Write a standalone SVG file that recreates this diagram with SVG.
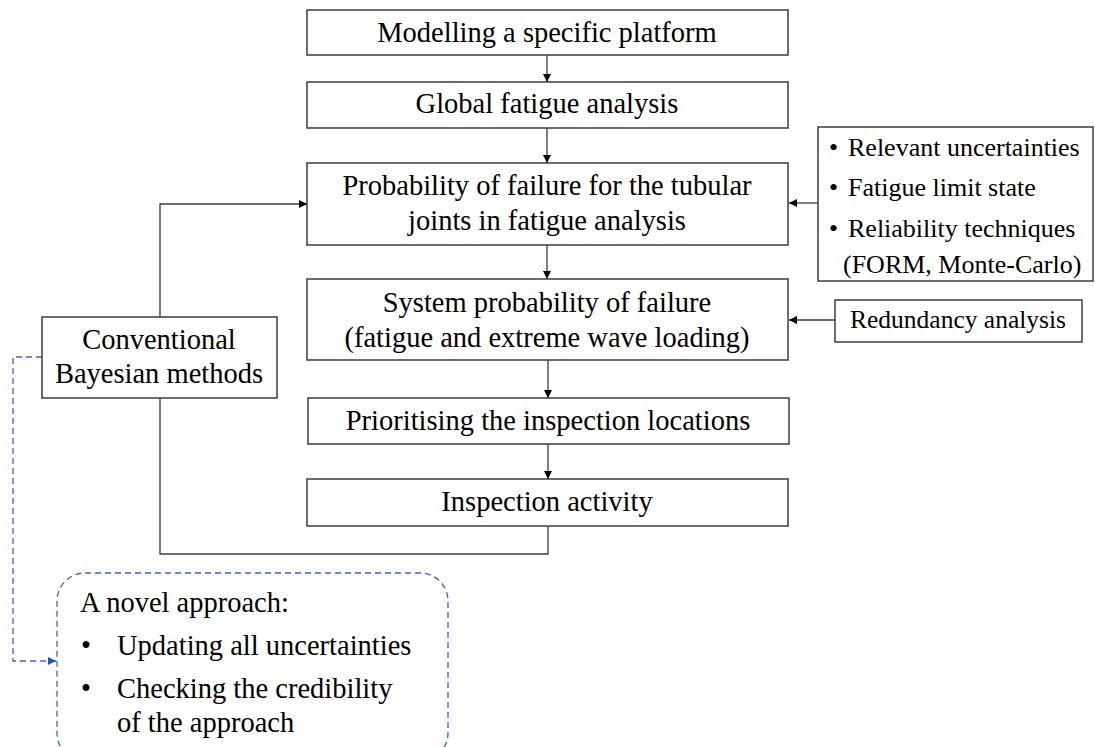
<svg xmlns="http://www.w3.org/2000/svg" width="1095" height="747" viewBox="0 0 1095 747">
  <defs>
    <marker id="arr" viewBox="0 0 10 10" refX="10" refY="5" markerWidth="9" markerHeight="8" markerUnits="userSpaceOnUse" orient="auto">
      <path d="M0,0 L10,5 L0,10 z" fill="#000"/>
    </marker>
    <marker id="arrBlue" viewBox="0 0 10 10" refX="10" refY="5" markerWidth="9" markerHeight="8" markerUnits="userSpaceOnUse" orient="auto">
      <path d="M0,0 L10,5 L0,10 z" fill="#2a55b8"/>
    </marker>
    <style>
      .box { fill: #fff; stroke: #3c3c3c; stroke-width: 1.5; }
      .t { font-family: "Liberation Serif", serif; font-size: 28.5px; fill: #000; }
      .s { font-size: 26px; }
      .r { font-size: 25.5px; }
      .c { text-anchor: middle; }
      .link { fill: none; stroke: #3c3c3c; stroke-width: 1.3; }
      .dash { fill: none; stroke: #3a66c4; stroke-width: 1.3; stroke-dasharray: 6 4; }
    </style>
  </defs>
  <rect width="1095" height="747" fill="#fff"/>

  <!-- connectors -->
  <g id="connectors">
    <line class="link" x1="547" y1="55" x2="547" y2="82" marker-end="url(#arr)"/>
    <line class="link" x1="547" y1="128" x2="547" y2="163" marker-end="url(#arr)"/>
    <line class="link" x1="547" y1="245" x2="547" y2="279" marker-end="url(#arr)"/>
    <line class="link" x1="548" y1="360" x2="548" y2="398" marker-end="url(#arr)"/>
    <line class="link" x1="548" y1="444" x2="548" y2="479" marker-end="url(#arr)"/>
    <polyline class="link" points="548,526 548,554 160,554 160,398"/>
    <polyline class="link" points="160,317 160,204 307,204" marker-end="url(#arr)"/>
    <line class="link" x1="818" y1="203" x2="789" y2="203" marker-end="url(#arr)"/>
    <line class="link" x1="835" y1="320" x2="789" y2="320" marker-end="url(#arr)"/>
    <polyline class="dash" points="42,357 13,357 13,661 56,661" marker-end="url(#arrBlue)"/>
  </g>

  <g id="modelling">
    <rect class="box" x="307" y="10" width="481" height="45"/>
    <text class="t c" x="547" y="42">Modelling a specific platform</text>
  </g>

  <g id="global-fatigue">
    <rect class="box" x="307" y="82" width="481" height="46"/>
    <text class="t c" x="547" y="113">Global fatigue analysis</text>
  </g>

  <g id="joint-failure">
    <rect class="box" x="307" y="163" width="481" height="82"/>
    <text class="t c" x="547" y="195">Probability of failure for the tubular</text>
    <text class="t c" x="547" y="230">joints in fatigue analysis</text>
  </g>

  <g id="system-failure">
    <rect class="box" x="307" y="279" width="481" height="81"/>
    <text class="t c" x="547" y="312">System probability of failure</text>
    <text class="t c" x="547" y="347">(fatigue and extreme wave loading)</text>
  </g>

  <g id="prioritising">
    <rect class="box" x="308" y="398" width="481" height="46"/>
    <text class="t c" x="548" y="430">Prioritising the inspection locations</text>
  </g>

  <g id="inspection">
    <rect class="box" x="307" y="479" width="481" height="47"/>
    <text class="t c" x="547" y="511">Inspection activity</text>
  </g>

  <g id="reliability-inputs">
    <rect class="box" x="818" y="127" width="275" height="154"/>
    <text class="t s" x="829" y="156">•</text>
    <text class="t s" x="848" y="156">Relevant uncertainties</text>
    <text class="t s" x="829" y="196">•</text>
    <text class="t s" x="848" y="196">Fatigue limit state</text>
    <text class="t s" x="829" y="237">•</text>
    <text class="t s" x="848" y="237">Reliability techniques</text>
    <text class="t s" x="843" y="273">(FORM, Monte-Carlo)</text>
  </g>

  <g id="redundancy">
    <rect class="box" x="835" y="300" width="247" height="42"/>
    <text class="t r c" x="958" y="328">Redundancy analysis</text>
  </g>

  <g id="conventional-bayesian">
    <rect class="box" x="42" y="317" width="235" height="81"/>
    <text class="t c" x="159" y="349">Conventional</text>
    <text class="t c" x="159" y="383">Bayesian methods</text>
  </g>

  <g id="novel-approach">
    <rect class="dash" x="57" y="573" width="391" height="188" rx="28" ry="28"/>
    <text class="t" x="80" y="612">A novel approach:</text>
    <text class="t" x="81" y="655">•</text>
    <text class="t" x="117" y="655">Updating all uncertainties</text>
    <text class="t" x="81" y="698">•</text>
    <text class="t" x="117" y="698">Checking the credibility</text>
    <text class="t" x="117" y="732">of the approach</text>
  </g>
</svg>
